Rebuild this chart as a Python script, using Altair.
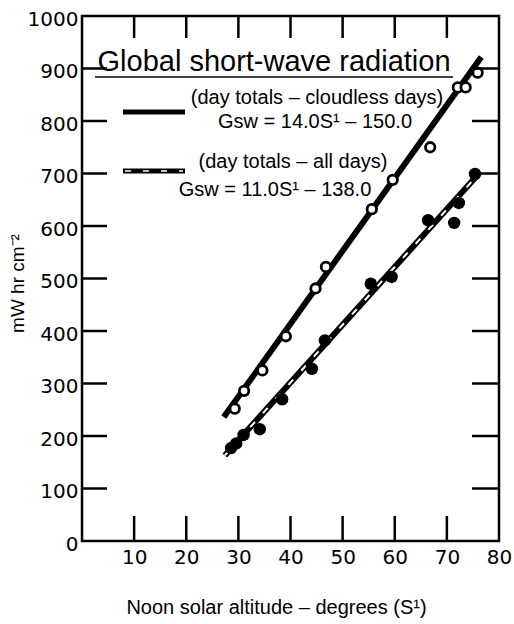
import altair as alt
import pandas as pd

# ---- data ----
open_x = [29.3, 31.1, 34.6, 39.1, 44.8, 46.8, 55.6, 59.6, 66.8, 72.1, 73.6, 75.9]
open_y = [252, 286, 325, 390, 481, 522, 632, 688, 750, 864, 864, 892]
filled_x = [28.6, 29.6, 31.0, 34.1, 38.4, 44.1, 46.6, 55.4, 59.4, 66.4, 71.4, 72.3, 75.4]
filled_y = [177, 186, 202, 213, 270, 328, 382, 490, 503, 611, 606, 644, 699]

cloud_line_x = [27.2, 76.6]
cloud_line_y = [236, 922]
all_line_x = [27.4, 75.9]
all_line_y = [163, 697]

x_labels = [10, 20, 30, 40, 50, 60, 70, 80]
y_labels = [0, 100, 200, 300, 400, 500, 600, 700, 800, 900, 1000]
x_inner_ticks = [10, 20, 30, 40, 50, 60, 70]
y_inner_ticks = [100, 200, 300, 400, 500, 600, 700, 800, 900]

title_text = "Global short-wave radiation"
legend1_a = "(day totals \u2013 cloudless days)"
legend1_b = "Gsw = 14.0S\u00b9 \u2013 150.0"
legend2_a = "(day totals \u2013 all days)"
legend2_b = "Gsw = 11.0S\u00b9 \u2013 138.0"
x_title = "Noon solar altitude \u2013 degrees (S\u00b9)"
y_title = "mW hr cm\u207b\u00b2"

# ---- styling ----
W, H = 417, 525
NUM_FONT = "DejaVu Sans"
TEXT_FONT = "Liberation Sans"

xs = alt.Scale(domain=[0, 80], nice=False, zero=False)
ys = alt.Scale(domain=[0, 1000], nice=False, zero=False)

x_axis = alt.Axis(values=x_labels, format="d", title=x_title,
                  titleX=194, titleY=66)
y_axis = alt.Axis(values=y_labels, format="d", title=y_title,
                  titleX=-65, titleY=267, titleAngle=270)


def X(field):
    return alt.X(f"{field}:Q", scale=xs, axis=x_axis)


def Y(field):
    return alt.Y(f"{field}:Q", scale=ys, axis=y_axis)


open_df = pd.DataFrame({"x": open_x, "y": open_y})
filled_df = pd.DataFrame({"x": filled_x, "y": filled_y})
cloud_df = pd.DataFrame({"x": cloud_line_x, "y": cloud_line_y})
all_df = pd.DataFrame({"x": all_line_x, "y": all_line_y})

# regression lines
cloud_line = alt.Chart(cloud_df).mark_line(color="black", strokeWidth=6, strokeCap="butt").encode(
    x=X("x"), y=Y("y"))
all_line = alt.Chart(all_df).mark_line(color="black", strokeWidth=6, strokeCap="butt").encode(
    x=X("x"), y=Y("y"))
all_dash = alt.Chart(all_df).mark_line(color="white", strokeWidth=2, strokeDash=[7, 12]).encode(
    x=X("x"), y=Y("y"))

# points
open_pts = alt.Chart(open_df).mark_point(shape="circle", filled=True, fill="white",
                                          stroke="black", strokeWidth=2.8, size=90, opacity=1).encode(
    x=X("x"), y=Y("y"))
filled_pts = alt.Chart(filled_df).mark_point(shape="circle", filled=True, fill="black",
                                              size=155, opacity=1).encode(
    x=X("x"), y=Y("y"))

# inward ticks
ytick_df = pd.DataFrame({"y": y_inner_ticks})
xtick_df = pd.DataFrame({"x": x_inner_ticks})
left_ticks = alt.Chart(ytick_df).mark_rule(color="black", strokeWidth=2.5).encode(
    y=Y("y"), x=alt.value(0), x2=alt.value(25))
right_ticks = alt.Chart(ytick_df).mark_rule(color="black", strokeWidth=2.5).encode(
    y=Y("y"), x=alt.value(W - 27), x2=alt.value(W))
bottom_ticks = alt.Chart(xtick_df).mark_rule(color="black", strokeWidth=2.5).encode(
    x=X("x"), y=alt.value(H - 25), y2=alt.value(H))
top_ticks = alt.Chart(xtick_df).mark_rule(color="black", strokeWidth=2.5).encode(
    x=X("x"), y=alt.value(0), y2=alt.value(22))


def label(text, px, py, size):
    return alt.Chart(pd.DataFrame({"t": [text]})).mark_text(
        font=TEXT_FONT, fontSize=size, align="center", baseline="middle", color="black").encode(
        text="t:N", x=alt.value(px), y=alt.value(py))


def hrule(x1, x2, y, width, color="black", dash=None):
    kw = dict(color=color, strokeWidth=width, strokeCap="butt")
    if dash:
        kw["strokeDash"] = dash
    return alt.Chart(pd.DataFrame({"t": [0]})).mark_rule(**kw).encode(
        x=alt.value(x1), x2=alt.value(x2), y=alt.value(y))


legend = [
    label(title_text, 192, 46, 29),
    hrule(13, 371, 61, 1.5),
    hrule(41, 103, 96, 5),
    label(legend1_a, 235, 82, 20),
    label(legend1_b, 233, 106, 20),
    hrule(41, 103, 155, 5),
    hrule(43, 101, 155, 1.5, color="white", dash=[6, 12]),
    label(legend2_a, 211, 146, 20),
    label(legend2_b, 193, 174, 20),
]

chart = alt.layer(
    cloud_line, all_line, all_dash, open_pts, filled_pts,
    left_ticks, right_ticks, bottom_ticks, top_ticks, *legend
).properties(
    width=W, height=H,
    autosize=alt.AutoSizeParams(type="none"),
    padding={"left": 82, "top": 16, "right": 15, "bottom": 83},
).configure_view(
    stroke="black", strokeWidth=2.5
).configure_axis(
    domain=False, ticks=False, grid=False,
    labelFont=NUM_FONT, labelFontSize=20, labelColor="black", labelFlush=False,
    titleFont=TEXT_FONT, titleFontWeight="normal", titleColor="black",
    titleBaseline="middle", titleAlign="center",
).configure_axisX(
    labelPadding=6, titleFontSize=20,
).configure_axisY(
    labelPadding=4, labelOffset=3, titleFontSize=19,
)

chart.save("out.html", embed_options={"renderer": "svg", "actions": False})
